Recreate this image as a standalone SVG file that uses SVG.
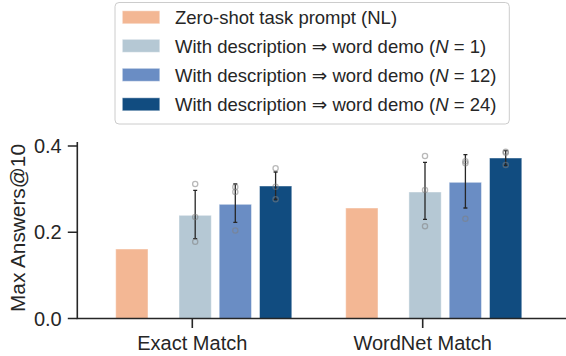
<svg xmlns="http://www.w3.org/2000/svg" width="566" height="356" viewBox="0 0 566 356">
<style>
text{font-family:"Liberation Sans","DejaVu Sans",Arial,sans-serif;fill:#262626}
.tick{font-size:20px}
.ylab{font-size:20.8px}
.leg{font-size:18.5px}
.bar{stroke:#ffffff;stroke-opacity:0.45;stroke-width:1}
.o{fill:#F3B794}.l{fill:#B5C8D4}.m{fill:#6A8DC4}.d{fill:#114C80}
.eb{stroke:#262626;stroke-width:1.3;fill:none}
.dot{fill:none;stroke:#7f7f7f;stroke-opacity:0.55;stroke-width:1.3}
.ax{stroke:#262626;stroke-width:1.6;fill:none}
</style>
<rect width="566" height="356" fill="#ffffff"/>
<g id="bars-exact">
<rect class="bar o" x="115.7" y="249" width="32.3" height="69.5"/>
<rect class="bar l" x="179" y="215.3" width="32.3" height="103.2"/>
<rect class="bar m" x="219.2" y="204.3" width="32.3" height="114.2"/>
<rect class="bar d" x="259.5" y="186" width="32.3" height="132.5"/>
</g>
<g id="bars-wordnet">
<rect class="bar o" x="345.7" y="208" width="32.3" height="110.5"/>
<rect class="bar l" x="408.9" y="192" width="32.3" height="126.5"/>
<rect class="bar m" x="449.2" y="182.3" width="32.3" height="136.2"/>
<rect class="bar d" x="489.5" y="158" width="32.3" height="160.5"/>
</g>
<g id="errorbars">
<path class="eb" d="M195.2 190.3V238.7M193.2 190.3H197.2M193.2 238.7H197.2"/>
<path class="eb" d="M235.3 184V222.3M233.3 184H237.3M233.3 222.3H237.3"/>
<path class="eb" d="M275.6 172V199.5M273.6 172H277.6M273.6 199.5H277.6"/>
<path class="eb" d="M425 162.3V219.3M423 162.3H427M423 219.3H427"/>
<path class="eb" d="M465.4 154.7V208M463.4 154.7H467.4M463.4 208H467.4"/>
<path class="eb" d="M505.7 150.7V165.3M503.7 150.7H507.7M503.7 165.3H507.7"/>
</g>
<g id="points">
<circle class="dot" cx="195.2" cy="184" r="2.6"/><circle class="dot" cx="195.2" cy="217" r="2.6"/><circle class="dot" cx="195.2" cy="241.7" r="2.6"/>
<circle class="dot" cx="235.3" cy="187" r="2.6"/><circle class="dot" cx="235.3" cy="192" r="2.6"/><circle class="dot" cx="235.3" cy="230.5" r="2.6"/>
<circle class="dot" cx="275.6" cy="168.3" r="2.6"/><circle class="dot" cx="275.6" cy="186.7" r="2.6"/><circle class="dot" cx="275.6" cy="199.3" r="2.6"/>
<circle class="dot" cx="425" cy="156" r="2.6"/><circle class="dot" cx="425" cy="190" r="2.6"/><circle class="dot" cx="425" cy="226.3" r="2.6"/>
<circle class="dot" cx="465.4" cy="161.3" r="2.6"/><circle class="dot" cx="465.4" cy="163.3" r="2.6"/><circle class="dot" cx="465.4" cy="218.7" r="2.6"/>
<circle class="dot" cx="505.7" cy="151.7" r="2.6"/><circle class="dot" cx="505.7" cy="152.7" r="2.6"/><circle class="dot" cx="505.7" cy="165" r="2.6"/>
</g>
<g id="axes">
<path class="ax" d="M77.3 142V318.5H566"/>
<path class="ax" d="M67.8 146H77.3M67.8 232.2H77.3M67.8 318.5H77.3M192.3 318.5V328M422.7 318.5V328"/>
<text class="tick" x="61.7" y="153" text-anchor="end">0.4</text>
<text class="tick" x="61.7" y="239.2" text-anchor="end">0.2</text>
<text class="tick" x="61.7" y="325.5" text-anchor="end">0.0</text>
<text class="tick" x="192.3" y="349.5" text-anchor="middle">Exact Match</text>
<text class="tick" x="422.7" y="349.5" text-anchor="middle">WordNet Match</text>
<text class="ylab" transform="translate(24.5 228) rotate(-90)" text-anchor="middle">Max Answers@10</text>
</g>
<g id="legend">
<rect x="115" y="2.5" width="394.3" height="121.5" rx="4" fill="#ffffff" fill-opacity="0.8" stroke="#cccccc" stroke-width="1"/>
<rect class="bar o" x="122.3" y="10.8" width="37.5" height="13"/>
<rect class="bar l" x="122.3" y="39.3" width="37.5" height="13"/>
<rect class="bar m" x="122.3" y="68.3" width="37.5" height="13"/>
<rect class="bar d" x="122.3" y="97.8" width="37.5" height="13"/>
<text class="leg" x="175" y="24">Zero-shot task prompt (NL)</text>
<text class="leg" x="175" y="53">With description ⇒ word demo (<tspan font-style="italic">N</tspan> = 1)</text>
<text class="leg" x="175" y="82">With description ⇒ word demo (<tspan font-style="italic">N</tspan> = 12)</text>
<text class="leg" x="175" y="111">With description ⇒ word demo (<tspan font-style="italic">N</tspan> = 24)</text>
</g>
</svg>
